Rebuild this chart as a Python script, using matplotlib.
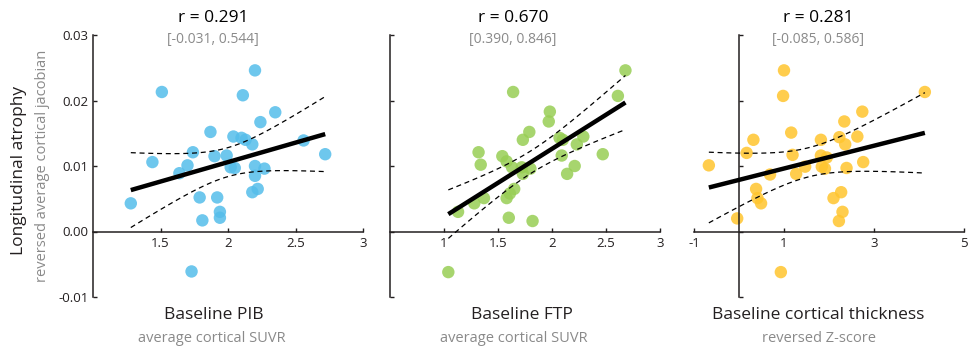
import numpy as np
import matplotlib
matplotlib.use("Agg")
import matplotlib.pyplot as plt

plt.rcParams['font.family'] = ['Open Sans', 'DejaVu Sans']

# ---- data ----
pib_x = [1.28, 1.44, 1.51, 1.64, 1.70, 1.74, 1.79, 1.81, 1.73, 1.87, 1.90, 1.92,
         1.94, 1.94, 1.99, 2.02, 2.04, 2.05, 2.11, 2.10, 2.13, 2.18, 2.20, 2.20,
         2.20, 2.18, 2.22, 2.24, 2.27, 2.35, 2.56, 2.72]
pib_y = [0.0043, 0.0106, 0.0213, 0.0089, 0.0101, 0.0121, 0.0052, 0.0017, -0.0061,
         0.0152, 0.0115, 0.0052, 0.0030, 0.0021, 0.0116, 0.0098, 0.0145, 0.0097,
         0.0208, 0.0143, 0.0140, 0.0133, 0.0246, 0.0100, 0.0085, 0.0060, 0.0065,
         0.0167, 0.0096, 0.0182, 0.0139, 0.0118]

ftp_x = [1.04, 1.13, 1.28, 1.32, 1.34, 1.37, 1.54, 1.58, 1.58, 1.60, 1.61, 1.64,
         1.63, 1.65, 1.72, 1.73, 1.73, 1.79, 1.80, 1.82, 1.97, 1.98, 2.07, 2.10,
         2.09, 2.14, 2.21, 2.23, 2.29, 2.47, 2.61, 2.68]
ftp_y = [-0.0062, 0.0030, 0.0043, 0.0121, 0.0102, 0.0051, 0.0115, 0.0107, 0.0051,
         0.0021, 0.0058, 0.0213, 0.0098, 0.0065, 0.0098, 0.0140, 0.0088, 0.0152,
         0.0096, 0.0016, 0.0168, 0.0183, 0.0143, 0.0140, 0.0116, 0.0088, 0.0100,
         0.0133, 0.0145, 0.0118, 0.0207, 0.0246]

ct_x = [-0.67, -0.04, 0.17, 0.32, 0.38, 0.41, 0.49, 0.69, 0.93, 0.98, 1.00, 1.16,
        1.19, 1.27, 1.47, 1.82, 1.82, 1.91, 1.95, 1.84, 2.10, 2.23, 2.27, 2.30,
        2.22, 2.34, 2.36, 2.39, 2.63, 2.74, 2.76, 4.13]
ct_y = [0.0101, 0.0020, 0.0120, 0.0140, 0.0065, 0.0051, 0.0043, 0.0087, -0.0062,
        0.0207, 0.0246, 0.0151, 0.0117, 0.0088, 0.0099, 0.0140, 0.0116, 0.0096,
        0.0113, 0.0099, 0.0051, 0.0144, 0.0060, 0.0030, 0.0016, 0.0168, 0.0133,
        0.0097, 0.0145, 0.0183, 0.0106, 0.0213]

titles = ["r = 0.291", "r = 0.670", "r = 0.281"]
cis = ["[-0.031, 0.544]", "[0.390, 0.846]", "[-0.085, 0.586]"]
xlabels = ["Baseline PIB", "Baseline FTP", "Baseline cortical thickness"]
xsublabels = ["average cortical SUVR", "average cortical SUVR", "reversed Z-score"]
xticks_list = [[1.5, 2, 2.5, 3], [1, 1.5, 2, 2.5, 3], [-1, 1, 3, 5]]
xlims = [(1, 3), (0.5, 3), (-1, 5)]
yspine_pos = [1, 0.5, 0]
yticks = [-0.01, 0.00, 0.01, 0.02, 0.03]
ytick_labels = ["-0.01", "0.00", "0.01", "0.02", "0.03"]
colors = ["#55BDEA", "#98CE55", "#FFC52E"]

W, H = 969, 352
fig = plt.figure(figsize=(W / 100, H / 100), dpi=100)

lefts = [93, 390, 694]
aw = 270
bottom_px = 297
ah = 262

data = [(pib_x, pib_y), (ftp_x, ftp_y), (ct_x, ct_y)]
title_cx = [213, 513, 818]
xl_cx = [214, 522, 818]
xs_cx = [212, 514, 819]

dark = "#231F20"
gray = "#8A8A8A"

for i in range(3):
    ax = fig.add_axes([lefts[i] / W, (H - bottom_px) / H, aw / W, ah / H])
    x = np.array(data[i][0])
    y = np.array(data[i][1])
    ax.scatter(x, y, s=80, color=colors[i], alpha=0.85, edgecolors='none', zorder=2)

    # linear fit with 95% CI of the mean
    n = len(x)
    b, a = np.polyfit(x, y, 1)
    xs = np.linspace(x.min(), x.max(), 100)
    yhat = a + b * xs
    resid = y - (a + b * x)
    s = np.sqrt(np.sum(resid ** 2) / (n - 2))
    sxx = np.sum((x - x.mean()) ** 2)
    tval = 2.042
    se = s * np.sqrt(1 / n + (xs - x.mean()) ** 2 / sxx)
    ax.plot(xs, yhat, color='black', lw=3.2, solid_capstyle='butt', zorder=3)
    ax.plot(xs, yhat + tval * se, color='black', lw=0.9, ls=(0, (4, 3)), zorder=3)
    ax.plot(xs, yhat - tval * se, color='black', lw=0.9, ls=(0, (4, 3)), zorder=3)

    ax.set_xlim(*xlims[i])
    ax.set_ylim(-0.01, 0.03)
    ax.set_facecolor('none')
    for sp in ['top', 'right']:
        ax.spines[sp].set_visible(False)
    ax.spines['left'].set_position(('data', yspine_pos[i]))
    ax.spines['bottom'].set_position(('data', 0))
    for sp in ['left', 'bottom']:
        ax.spines[sp].set_linewidth(1.1)
        ax.spines[sp].set_color(dark)
    ax.set_xticks(xticks_list[i])
    ax.set_xticklabels([("%g" % v) for v in xticks_list[i]])
    ax.set_yticks(yticks)
    if i == 0:
        ax.set_yticklabels(ytick_labels)
    else:
        ax.set_yticklabels([])
    ax.tick_params(axis='both', direction='in', length=3, width=1.0, color=dark,
                   labelsize=9.5, labelcolor=dark, pad=3)
    ax.tick_params(axis='x', pad=4)

    fig.text(title_cx[i] / W, 1 - 18 / H, titles[i], ha='center', va='center',
             fontsize=12.5, color='black')
    fig.text(title_cx[i] / W, 1 - 40 / H, cis[i], ha='center', va='center',
             fontsize=10, color=gray)
    fig.text(xl_cx[i] / W, 1 - 315 / H, xlabels[i], ha='center', va='center',
             fontsize=12.5, color=dark)
    fig.text(xs_cx[i] / W, 1 - 338 / H, xsublabels[i], ha='center', va='center',
             fontsize=10.5, color=gray)

fig.text(19 / W, 1 - 170 / H, "Longitudinal atrophy", rotation=90, ha='center',
         va='center', fontsize=12.5, color=dark)
fig.text(43 / W, 1 - 166 / H, "reversed average cortical jacobian", rotation=90,
         ha='center', va='center', fontsize=10.5, color=gray)

fig.savefig("out.png", dpi=100)
